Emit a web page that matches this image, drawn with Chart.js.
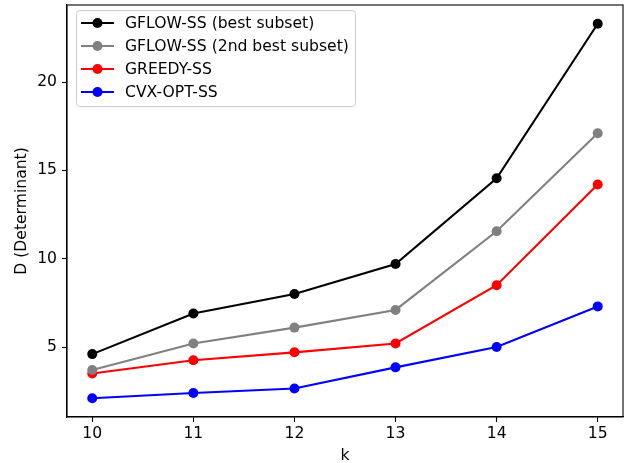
<!DOCTYPE html>
<html>
<head>
<meta charset="utf-8">
<script src="https://cdn.jsdelivr.net/npm/chart.js@4.4.1/dist/chart.umd.min.js"></script>
<style>
html,body{margin:0;padding:0;background:#fff;}
#wrap{width:635px;height:463px;position:relative;}
</style>
</head>
<body>
<div id="wrap"><canvas id="c" width="635" height="463"></canvas></div>
<script>
const kValues = [10, 11, 12, 13, 14, 15];
const gflowBest = [4.6, 6.9, 8.0, 9.7, 14.55, 23.3];
const gflowSecond = [3.7, 5.2, 6.1, 7.1, 11.55, 17.1];
const greedy = [3.5, 4.25, 4.7, 5.2, 8.5, 14.2];
const cvxOpt = [2.1, 2.4, 2.65, 3.85, 5.0, 7.3];
const yTicks = [5, 10, 15, 20];
const xTicks = [10, 11, 12, 13, 14, 15];
const seriesNames = ['GFLOW-SS (best subset)', 'GFLOW-SS (2nd best subset)', 'GREEDY-SS', 'CVX-OPT-SS'];
const seriesColors = ['#000000', '#808080', '#ff0000', '#0000ff'];
const seriesValues = [gflowBest, gflowSecond, greedy, cvxOpt];

const FONT = 'DejaVu Sans';
const FS = 15.6;
const MR = 5;

function pts(vals){ return vals.map((v,i)=>({x:kValues[i], y:v})); }

const datasets = seriesValues.map((vals, i) => ({
  label: seriesNames[i],
  data: pts(vals),
  borderColor: seriesColors[i],
  backgroundColor: seriesColors[i],
  borderWidth: 2.1,
  pointRadius: MR,
  pointHoverRadius: MR,
  pointBorderWidth: 0,
  tension: 0,
  fill: false
}));

const allVals = seriesValues.flat();
const yMinData = Math.min(...allVals), yMaxData = Math.max(...allVals);
const yMarg = (yMaxData - yMinData) * 0.05;
const xMarg = (kValues[kValues.length-1] - kValues[0]) * 0.05;

const framePlugin = {
  id: 'frame',
  afterDatasetsDraw(chart){
    const {ctx, chartArea:a} = chart;
    ctx.save();
    ctx.strokeStyle = '#000';
    ctx.lineWidth = 1.1;
    ctx.strokeRect(a.left, a.top, a.right - a.left, a.bottom - a.top);
    ctx.restore();
  },
  afterDraw(chart){
    const ctx = chart.ctx;
    ctx.save();
    const x0 = 76.5, y0 = 10.5, w = 279, h = 96, r = 3;
    ctx.beginPath();
    ctx.moveTo(x0 + r, y0);
    ctx.lineTo(x0 + w - r, y0);
    ctx.quadraticCurveTo(x0 + w, y0, x0 + w, y0 + r);
    ctx.lineTo(x0 + w, y0 + h - r);
    ctx.quadraticCurveTo(x0 + w, y0 + h, x0 + w - r, y0 + h);
    ctx.lineTo(x0 + r, y0 + h);
    ctx.quadraticCurveTo(x0, y0 + h, x0, y0 + h - r);
    ctx.lineTo(x0, y0 + r);
    ctx.quadraticCurveTo(x0, y0, x0 + r, y0);
    ctx.closePath();
    ctx.fillStyle = 'rgba(255,255,255,0.8)';
    ctx.fill();
    ctx.strokeStyle = '#cccccc';
    ctx.lineWidth = 1;
    ctx.stroke();
    ctx.font = FS + 'px "' + FONT + '"';
    ctx.textBaseline = 'middle';
    chart.data.datasets.forEach((ds, i) => {
      const yy = 23 + i * 23;
      ctx.strokeStyle = ds.borderColor;
      ctx.lineWidth = 2.1;
      ctx.beginPath();
      ctx.moveTo(81, yy);
      ctx.lineTo(114, yy);
      ctx.stroke();
      ctx.fillStyle = ds.backgroundColor;
      ctx.beginPath();
      ctx.arc(97.5, yy, MR, 0, Math.PI * 2);
      ctx.fill();
      ctx.fillStyle = '#000';
      ctx.fillText(ds.label, 125, yy + 1);
    });
    ctx.restore();
  }
};

new Chart(document.getElementById('c'), {
  type: 'line',
  data: { datasets },
  options: {
    responsive: false,
    animation: false,
    devicePixelRatio: 1,
    layout: { padding: { left: 0, right: 12, top: 4, bottom: 0 } },
    plugins: { legend: { display: false }, tooltip: { enabled: false } },
    scales: {
      x: {
        type: 'linear',
        min: kValues[0] - xMarg,
        max: kValues[kValues.length-1] + xMarg,
        afterBuildTicks(s){ s.ticks = xTicks.map(v => ({value: v})); },
        afterFit(s){ s.height = 46; s.paddingLeft = 0; s.paddingRight = 0; },
        grid: { drawOnChartArea: false, drawTicks: true, tickLength: 5, tickWidth: 1.1, tickColor: '#000' },
        border: { display: true, color: '#000', width: 1.1 },
        ticks: { color: '#000', font: { family: FONT, size: FS }, padding: 3, maxRotation: 0 },
        title: { display: true, text: 'k', color: '#000', font: { family: FONT, size: FS }, padding: { top: 0, bottom: -2 } }
      },
      y: {
        type: 'linear',
        min: yMinData - yMarg,
        max: yMaxData + yMarg,
        afterBuildTicks(s){ s.ticks = yTicks.map(v => ({value: v})); },
        afterFit(s){ s.width = 67; s.paddingTop = 0; s.paddingBottom = 0; },
        grid: { drawOnChartArea: false, drawTicks: true, tickLength: 5, tickWidth: 1.1, tickColor: '#000' },
        border: { display: true, color: '#000', width: 1.1 },
        ticks: { color: '#000', font: { family: FONT, size: FS }, padding: 5 },
        title: { display: true, text: 'D (Determinant)', color: '#000', font: { family: FONT, size: FS }, padding: { top: 13, bottom: 0 } }
      }
    }
  },
  plugins: [framePlugin]
});
</script>
</body>
</html>
